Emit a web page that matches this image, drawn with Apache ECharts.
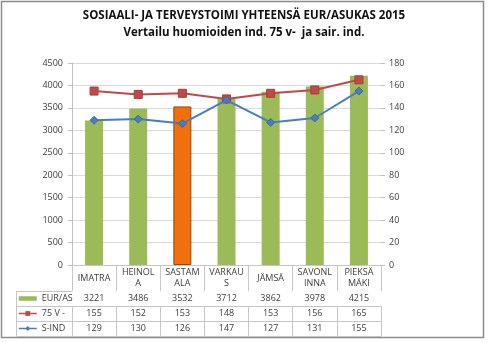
<!DOCTYPE html>
<html><head><meta charset="utf-8">
<script src="https://cdn.jsdelivr.net/npm/echarts@6/dist/echarts.min.js"></script>
<style>html,body{margin:0;padding:0;background:#fff}#c{width:488px;height:342px}</style>
</head><body><div id="c"></div>
<script>
const categories = ['IMATRA','HEINOLA','SASTAMALA','VARKAUS','JÄMSÄ','SAVONLINNA','PIEKSÄMÄKI'];
const eurAs = [3221,3486,3532,3712,3862,3978,4215];
const v75 = [155,152,153,148,153,156,165];
const sInd = [129,130,126,147,127,131,155];
const seriesNames = ['EUR/AS','75 V -','S-IND'];
const highlightIndex = 2;
const titleLines = ['SOSIAALI- JA TERVEYSTOIMI YHTEENSÄ EUR/ASUKAS 2015','Vertailu huomioiden ind. 75 v-  ja sair. ind.'];

const FF = 'Open Sans';
const GRID_L = 72, GRID_R = 381, GRID_T = 63, GRID_B = 265;
const ROW = [265, 291, 306, 321, 336];
const tcol = '#C6C6C6';
const txt = '#404040';

function wrap(s){ return s.length > 6 ? s.slice(0,6) + '\n' + s.slice(6) : s; }

function tableAxis(offset, values, tickLen, isHeader){
  return {
    type:'category', gridIndex:0, position:'bottom', offset:offset, data:categories,
    axisLine:{show:true, lineStyle:{color: isHeader ? '#BFBFBF' : tcol, width:1}},
    axisTick:{show:tickLen>0, length:tickLen, interval:0, lineStyle:{color:tcol}},
    axisLabel:{show: isHeader || !!values, interval:0, margin: isHeader ? 13 : 7.5, verticalAlign:'middle',
      lineHeight:11, fontSize:9, color:txt, fontFamily:FF,
      formatter:(v,i)=> isHeader ? wrap(v) : (values ? String(values[i]) : '')},
    splitLine:{show:false}, axisPointer:{show:false}
  };
}

const chart = echarts.init(document.getElementById('c'), null, {renderer:'canvas'});
const barData = eurAs.map((v,i)=> i===highlightIndex
  ? {value:v, itemStyle:{color:'#F0700F', borderColor:'#9A4608', borderWidth:1}}
  : v);

chart.setOption({
  animation:false,
  backgroundColor:'#fff',
  title:{text:titleLines.join('\n'), left:'center', top:7.5, padding:0,
    textStyle:{fontSize:11.5, fontWeight:'bold', color:'#111', fontFamily:FF, lineHeight:17}},
  grid:{left:GRID_L, right:488-GRID_R, top:GRID_T, bottom:342-GRID_B, containLabel:false},
  legend:{orient:'vertical', left:18, top:293.5, padding:0, itemWidth:18, itemHeight:6, itemGap:5,
    textStyle:{fontSize:9, color:txt, lineHeight:10, fontFamily:FF},
    data:[{name:seriesNames[0], icon:'path://M0,0h40v10h-40z'},
          {name:seriesNames[1], itemStyle:{borderWidth:0}, lineStyle:{width:1.5}},
          {name:seriesNames[2], itemStyle:{borderWidth:0}, lineStyle:{width:1.5}}]},
  xAxis:[
    tableAxis(0, null, ROW[1]-ROW[0], true),
    tableAxis(ROW[1]-ROW[0], eurAs, ROW[2]-ROW[1], false),
    tableAxis(ROW[2]-ROW[0], v75, ROW[3]-ROW[2], false),
    tableAxis(ROW[3]-ROW[0], sInd, ROW[4]-ROW[3], false),
    tableAxis(ROW[4]-ROW[0], null, 0, false)
  ],
  yAxis:[
    {type:'value', min:0, max:4500, interval:500, position:'left',
      axisLine:{show:true, lineStyle:{color:'#BFBFBF'}},
      axisTick:{show:true, length:4, lineStyle:{color:'#BFBFBF'}},
      axisLabel:{margin:9, fontSize:9, color:txt, fontFamily:FF, formatter:v=>String(v)},
      splitLine:{show:true, lineStyle:{color:'#D9D9D9'}}},
    {type:'value', min:0, max:180, interval:20, position:'right',
      axisLine:{show:false},
      axisTick:{show:true, length:4, lineStyle:{color:'#BFBFBF'}},
      axisLabel:{margin:8, fontSize:9, color:txt, fontFamily:FF, formatter:v=>String(v)},
      splitLine:{show:false}}
  ],
  series:[
    {name:seriesNames[0], type:'bar', xAxisIndex:0, yAxisIndex:0, data:barData, barWidth:18,
      itemStyle:{color:'#9BBB59'}, z:2},
    {name:seriesNames[1], type:'line', xAxisIndex:0, yAxisIndex:1, data:v75,
      symbol:'rect', symbolSize:8, lineStyle:{color:'#BE4B48', width:2},
      itemStyle:{color:'#BE4B48', borderColor:'#A33E3B', borderWidth:1}, z:4},
    {name:seriesNames[2], type:'line', xAxisIndex:0, yAxisIndex:1, data:sInd,
      symbol:'diamond', symbolSize:8, lineStyle:{color:'#4A7EBB', width:2},
      itemStyle:{color:'#4A7EBB', borderColor:'#3B6A9E', borderWidth:1}, z:5}
  ],
  graphic:[
    {type:'rect', shape:{x:1.5, y:1.5, width:482, height:336}, style:{fill:null, stroke:'#8C8C8C', lineWidth:1.5}, silent:true},
    {type:'line', shape:{x1:16.5, y1:ROW[1], x2:16.5, y2:ROW[4]}, style:{stroke:tcol, lineWidth:1}},
    {type:'line', shape:{x1:16.5, y1:ROW[1]+0.5, x2:GRID_L, y2:ROW[1]+0.5}, style:{stroke:tcol, lineWidth:1}},
    {type:'line', shape:{x1:16.5, y1:ROW[2]+0.5, x2:GRID_L, y2:ROW[2]+0.5}, style:{stroke:tcol, lineWidth:1}},
    {type:'line', shape:{x1:16.5, y1:ROW[3]+0.5, x2:GRID_L, y2:ROW[3]+0.5}, style:{stroke:tcol, lineWidth:1}},
    {type:'line', shape:{x1:16.5, y1:ROW[4]+0.5, x2:GRID_L, y2:ROW[4]+0.5}, style:{stroke:tcol, lineWidth:1}}
  ]
});
</script></body></html>
